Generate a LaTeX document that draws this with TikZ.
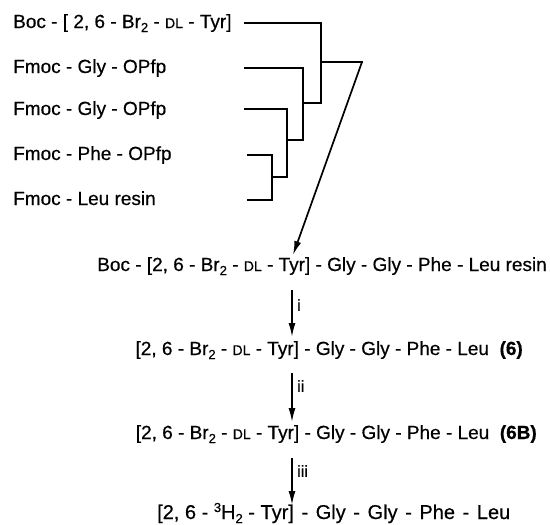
\documentclass[tikz,border=0pt]{standalone}
\usepackage{fontspec}
\setmainfont{Liberation Sans}[FakeBold=0.5]
\usetikzlibrary{arrows.meta}
\newcommand\sdl{{\fontsize{14}{14}\selectfont DL}}
\newcommand\subtwo{\raisebox{-4pt}{\fontsize{13}{13}\selectfont 2}}
\newcommand\supthree{\raisebox{7pt}{\fontsize{13}{13}\selectfont 3}}
\newcommand\widedash{\hspace{7.6pt}-\hspace{7.6pt}}
\tikzset{
  lbl/.style={inner sep=0pt, font=\fontsize{19}{20}\selectfont},
  step lbl/.style={inner sep=0pt, font=\fontsize{16}{16}\selectfont, anchor=north west},
  brk/.style={line width=1.7pt, line cap=rect},
  rxn/.style={line width=1.7pt, -{Latex[length=14pt,width=7pt]}}
}
\begin{document}
\begin{tikzpicture}[x=1pt,y=-1pt]
\useasboundingbox (0,0) rectangle (550,525);
% starting materials
\node[lbl, anchor=base west] (boc)  at (13,28)  {Boc - [ 2, 6 - Br\subtwo\ - \sdl\ - Tyr]};
\node[lbl, anchor=base west] (gly1) at (13,73)  {Fmoc - Gly - OPfp};
\node[lbl, anchor=base west] (gly2) at (13,115) {Fmoc - Gly - OPfp};
\node[lbl, anchor=base west] (phe)  at (13,160) {Fmoc - Phe - OPfp};
\node[lbl, anchor=base west] (leu)  at (13,205) {Fmoc - Leu resin};
% bracket coordinates
\coordinate (s1) at (245,23);
\coordinate (s2) at (245,68);
\coordinate (s3) at (245,109);
\coordinate (s4) at (248,155);
\coordinate (s5) at (248,200);
\coordinate (j4) at (272,177);
\coordinate (j3) at (287,140);
\coordinate (j2) at (303,103);
\coordinate (j1) at (321,62);
\coordinate (top) at (362,62);
% brackets
\draw[brk] (s4) -| (272,200) -- (s5);
\draw[brk] (j4) -- (287,177);
\draw[brk] (s3) -| (287,177);
\draw[brk] (j3) -- (303,140);
\draw[brk] (s2) -| (303,140);
\draw[brk] (j2) -- (321,103);
\draw[brk] (s1) -| (321,103);
\draw[brk] (j1) -- (top);
% products
\node[lbl, anchor=base east] (p0) at (547,271) {Boc - [2, 6 - Br\subtwo\ - \sdl\ - Tyr] - Gly - Gly - Phe - Leu resin};
\node[lbl, anchor=base east] (p1) at (523,355) {[2, 6 - Br\subtwo\ - \sdl\ - Tyr] - Gly - Gly - Phe - Leu\ \ \textbf{(6)}};
\node[lbl, anchor=base east] (p2) at (537,439) {[2, 6 - Br\subtwo\ - \sdl\ - Tyr] - Gly - Gly - Phe - Leu\ \ \textbf{(6B)}};
\node[lbl, anchor=base west, font=\fontsize{20}{21}\selectfont] (p3) at (157,519) {[2, 6 - \supthree H\subtwo\ - Tyr]\widedash Gly\widedash Gly\widedash Phe\widedash Leu};
% arrows
\coordinate (tip0) at (293,255);
\draw[rxn] (top) -- (tip0);
\coordinate (a1) at (292,290); \coordinate (b1) at (292,337);
\coordinate (a2) at (292,373); \coordinate (b2) at (292,422);
\coordinate (a3) at (292,458); \coordinate (b3) at (292,505);
\draw[rxn] (a1) -- (b1);
\draw[rxn] (a2) -- (b2);
\draw[rxn] (a3) -- (b3);
\node[step lbl] (l1) at (297,299) {i};
\node[step lbl] (l2) at (297,380) {ii};
\node[step lbl] (l3) at (297,465) {iii};
\end{tikzpicture}
\end{document}
